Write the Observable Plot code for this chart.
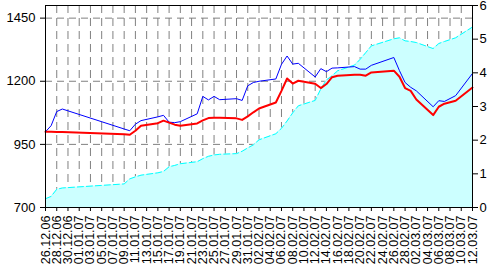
<!DOCTYPE html>
<html>
<head>
<meta charset="utf-8">
<script src="https://cdn.jsdelivr.net/npm/d3@7"></script>
<script src="https://cdn.jsdelivr.net/npm/@observablehq/plot@0.6"></script>
<style>
  html, body { margin: 0; padding: 0; background: #fff; }
  #chart svg { display: block; font-family: "Liberation Sans", Arial, sans-serif; }
</style>
</head>
<body>
<div id="chart"></div>
<script>
const dates = ["2006-12-26","2006-12-27","2006-12-28","2006-12-29","2007-01-09","2007-01-10","2007-01-11","2007-01-12","2007-01-15","2007-01-16","2007-01-17","2007-01-18","2007-01-19","2007-01-22","2007-01-23","2007-01-24","2007-01-25","2007-01-26","2007-01-29","2007-01-30","2007-01-31","2007-02-01","2007-02-02","2007-02-05","2007-02-06","2007-02-07","2007-02-08","2007-02-09","2007-02-12","2007-02-13","2007-02-14","2007-02-15","2007-02-16","2007-02-19","2007-02-20","2007-02-21","2007-02-22","2007-02-26","2007-02-27","2007-02-28","2007-03-01","2007-03-02","2007-03-05","2007-03-06","2007-03-07","2007-03-09","2007-03-12"];
const blueSeries = [1000,1024,1080,1090,1011,1004,1030,1044,1059,1065,1038,1036,1040,1071,1140,1126,1140,1127,1131,1124,1182,1195,1200,1209,1267,1300,1268,1271,1217,1250,1238,1252,1253,1258,1248,1248,1263,1294,1242,1195,1176,1162,1099,1123,1120,1143,1231];
const redSeries = [1000,1000,999,999,990,988,1004,1024,1034,1044,1036,1028,1024,1033,1045,1054,1055,1055,1053,1047,1061,1077,1092,1116,1162,1211,1191,1202,1190,1173,1189,1216,1222,1226,1226,1222,1235,1242,1218,1173,1162,1128,1066,1099,1111,1123,1175];
const areaSeries = [0.26,0.33,0.54,0.58,0.70,0.85,0.91,0.96,1.03,1.07,1.21,1.25,1.30,1.36,1.45,1.52,1.56,1.58,1.60,1.67,1.77,1.86,2.01,2.19,2.35,2.57,2.81,3.02,3.18,3.52,3.79,3.91,4.06,4.23,4.40,4.60,4.80,5.01,5.04,4.95,4.93,4.90,4.72,4.87,4.93,5.04,5.36];
const tickDates = ["2006-12-26","2006-12-28","2006-12-30","2007-01-01","2007-01-03","2007-01-05","2007-01-07","2007-01-09","2007-01-11","2007-01-13","2007-01-15","2007-01-17","2007-01-19","2007-01-21","2007-01-23","2007-01-25","2007-01-27","2007-01-29","2007-01-31","2007-02-02","2007-02-04","2007-02-06","2007-02-08","2007-02-10","2007-02-12","2007-02-14","2007-02-16","2007-02-18","2007-02-20","2007-02-22","2007-02-24","2007-02-26","2007-02-28","2007-03-02","2007-03-04","2007-03-06","2007-03-08","2007-03-10","2007-03-12"];
const leftTicks = [700, 950, 1200, 1450];
const leftGrid = [950, 1200, 1450];
const rightTicks = [0, 1, 2, 3, 4, 5, 6];
const leftDomain = [700, 1500];
const rightDomain = [0, 6];

const parse = d3.utcParse("%Y-%m-%d");
const fmt = d3.utcFormat("%d.%m.%y");
// map right-axis values onto the left y scale
const toLeft = v => leftDomain[0] + (v - rightDomain[0]) * (leftDomain[1] - leftDomain[0]) / (rightDomain[1] - rightDomain[0]);
const toRight = y => rightDomain[0] + (y - leftDomain[0]) * (rightDomain[1] - rightDomain[0]) / (leftDomain[1] - leftDomain[0]);

const data = dates.map((d, i) => ({
  date: parse(d),
  blue: blueSeries[i],
  red: redSeries[i],
  area: toLeft(areaSeries[i])
}));
const ticks = tickDates.map(parse);

const chart = Plot.plot({
  width: 487,
  height: 267,
  marginLeft: 45,
  marginRight: 15,
  marginTop: 5,
  marginBottom: 60,
  style: { fontFamily: "Liberation Sans, Arial, sans-serif", background: "#fff" },
  x: { type: "utc", domain: [parse(tickDates[0]), parse(tickDates[tickDates.length - 1])] },
  y: { domain: leftDomain },
  marks: [
    Plot.gridX(ticks, { stroke: "#808080", strokeOpacity: 1, strokeDasharray: "8,5" }),
    Plot.gridY(leftGrid, { stroke: "#808080", strokeOpacity: 1, strokeDasharray: "7,5" }),
    Plot.areaY(data, { x: "date", y1: leftDomain[0], y2: "area", fill: "#ccffff", curve: "linear" }),
    Plot.lineY(data, { x: "date", y: "area", stroke: "#00ffff", strokeWidth: 1, strokeDasharray: "6,3" }),
    Plot.lineY(data, { x: "date", y: "blue", stroke: "#0000ff", strokeWidth: 1 }),
    Plot.lineY(data, { x: "date", y: "red", stroke: "#ff0000", strokeWidth: 2 }),
    Plot.frame({ stroke: "#000", strokeWidth: 1 }),
    Plot.axisY({ anchor: "left", ticks: leftTicks, tickFormat: d => String(d), tickSize: 5, tickPadding: 5, fontSize: 13, fill: "#000", label: null }),
    Plot.axisY({ anchor: "right", ticks: rightTicks.map(toLeft), tickFormat: d => String(Math.round(toRight(d))), tickSize: 5, tickPadding: 2, fontSize: 13, fill: "#000", label: null }),
    Plot.axisX({ ticks: ticks, tickFormat: fmt, tickRotate: -90, tickSize: 4, tickPadding: 4, fontSize: 12.5, fill: "#000", label: null })
  ]
});
document.getElementById("chart").appendChild(chart);
</script>
</body>
</html>
